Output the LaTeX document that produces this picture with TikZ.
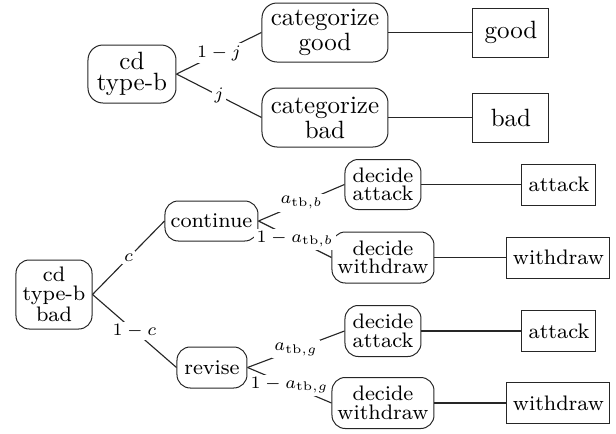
\documentclass[tikz,border=0pt]{standalone}
\begin{document}
\begin{tikzpicture}[x=0.4pt,y=-0.4pt,
  edge/.style={draw=black!85, line width=0.45pt},
  rtop/.style={draw=black!85, rounded corners=6pt, align=center, inner sep=0pt, font=\fontsize{10}{8.5}\selectfont},
  rbot/.style={draw=black!85, rounded corners=5.3pt, align=center, inner sep=0pt, font=\fontsize{8.4}{7.4}\selectfont},
  sqtop/.style={draw=black!85, inner sep=0pt, minimum width=30.4pt, minimum height=19.6pt, font=\fontsize{10}{8.5}\selectfont},
  sqbot/.style={draw=black!85, inner sep=0pt, minimum height=16.4pt, font=\fontsize{8.4}{7.4}\selectfont},
  labtop/.style={fill=white, inner sep=1pt, font=\fontsize{7.5}{9}\selectfont},
  labbot/.style={fill=white, inner sep=1pt, font=\scriptsize}]
\useasboundingbox (0,0) rectangle (616,434);
% top tree
\node[rtop, minimum width=35.2pt, minimum height=23.2pt] (A) at (132,74) {cd\\type-b};
\node[rtop, minimum width=50.4pt, minimum height=23.6pt] (CG) at (325,32.5) {categorize\\good};
\node[rtop, minimum width=50.4pt, minimum height=23.6pt] (CB) at (325,117.5) {categorize\\bad};
\node[sqtop] (G) at (511,32.5) {good};
\node[sqtop] (B) at (511,117.5) {bad};
\draw[edge] (A.east) -- node[labtop] {$1-j$} (CG.west);
\draw[edge] (A.east) -- node[labtop] {$j$} (CB.west);
\draw[edge] (CG.east) -- (G.west);
\draw[edge] (CB.east) -- (B.west);
% bottom tree
\node[rbot, minimum width=30.4pt, minimum height=27.6pt] (R) at (54,294.5) {cd\\type-b\\bad};
\node[rbot, minimum width=37.2pt, minimum height=16pt] (C) at (211.5,221) {continue};
\node[rbot, minimum width=28pt, minimum height=16.4pt] (V) at (212,367.5) {revise};
\node[rbot, minimum width=30.4pt, minimum height=20pt] (DA1) at (383,184.5) {decide\\attack};
\node[rbot, minimum width=40.8pt, minimum height=20.4pt] (DW1) at (383,257.5) {decide\\withdraw};
\node[rbot, minimum width=30.4pt, minimum height=20.4pt] (DA2) at (383,331) {decide\\attack};
\node[rbot, minimum width=40.8pt, minimum height=20.4pt] (DW2) at (383,403) {decide\\withdraw};
\node[sqbot, minimum width=29.6pt] (AT1) at (559,184.5) {attack};
\node[sqbot, minimum width=41.2pt] (WD1) at (558.5,257.5) {withdraw};
\node[sqbot, minimum width=29.6pt] (AT2) at (559,331) {attack};
\node[sqbot, minimum width=41.2pt] (WD2) at (558.5,403) {withdraw};
\draw[edge] (R.east) -- node[labbot] {$c$} (C.west);
\draw[edge] (R.east) -- node[labbot] {$1-c$} (V.west);
\draw[edge] (C.east) -- node[labbot] {$a_{\mathrm{tb},b}$} (DA1.west);
\draw[edge] (C.east) -- node[labbot] {$1-a_{\mathrm{tb},b}$} (DW1.west);
\draw[edge] (V.east) -- node[labbot] {$a_{\mathrm{tb},g}$} (DA2.west);
\draw[edge] (V.east) -- node[labbot] {$1-a_{\mathrm{tb},g}$} (DW2.west);
\draw[edge] (DA1.east) -- (AT1.west);
\draw[edge] (DW1.east) -- (WD1.west);
\draw[edge] (DA2.east) -- (AT2.west);
\draw[edge] (DW2.east) -- (WD2.west);
\end{tikzpicture}
\end{document}
